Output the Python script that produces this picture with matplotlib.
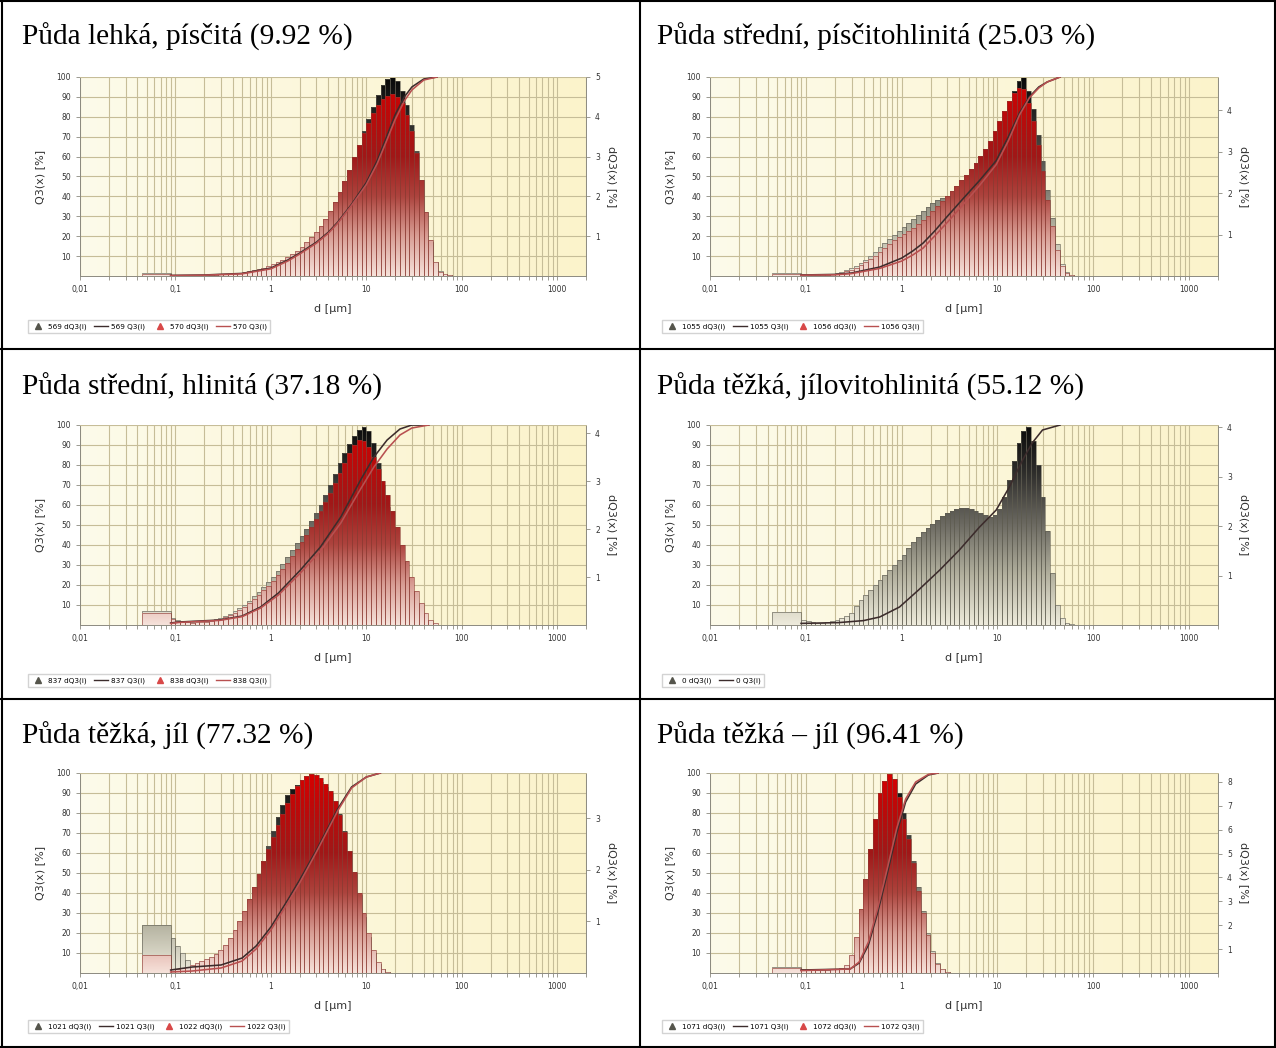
import numpy as np
import matplotlib.pyplot as plt
from matplotlib.colors import LinearSegmentedColormap
from matplotlib.lines import Line2D
from matplotlib.patches import Polygon
from matplotlib.ticker import FixedLocator, LogLocator, NullFormatter

W, H = 1276, 1048

titles = [
    'Půda lehká, písčitá (9.92 %)',
    'Půda střední, písčitohlinitá (25.03 %)',
    'Půda střední, hlinitá (37.18 %)',
    'Půda těžká, jílovitohlinitá (55.12 %)',
    'Půda těžká, jíl (77.32 %)',
    'Půda těžká – jíl (96.41 %)',
]

# size classes of the analyser: one coarse class, then 20 classes per decade
coarse_class = [0.0447, 0.0891]
classes_per_decade = 20

# dQ3 class heights read on the left (0-100) grid, lists start at the 0.0891 um class
blk569 = 1.5
h569 = [0.6, 0.4, 0.3, 0.3, 0.3, 0.3, 0.4, 0.5, 0.6, 0.7, 0.9,
        1.0, 1.2, 1.4, 1.7, 2.0, 2.4, 2.8, 3.3, 4.0, 4.8,
        5.8, 6.8, 8.0, 9.4, 11, 12.8, 14.8, 17, 19.5, 22,
        25, 28.5, 32.5, 37, 42, 47.5, 53.5, 60, 66, 73,
        79, 85, 91, 96, 99, 100, 98, 93, 86, 76,
        63, 48, 32, 17, 7, 2.5, 1, 0.3]
blk570 = 1.2
h570 = [0.5, 0.4, 0.3, 0.3, 0.3, 0.3, 0.4, 0.5, 0.6, 0.7, 0.9,
        1.0, 1.2, 1.4, 1.7, 2.0, 2.4, 2.8, 3.3, 4.0, 4.8,
        5.8, 6.8, 8.0, 9.4, 11, 12.8, 14.8, 17, 19.5, 22,
        25, 28.5, 32.5, 37, 42, 47.5, 53.5, 60, 66, 72,
        77, 82, 86, 89, 90.5, 91.5, 90, 87, 81, 73,
        62, 48, 32, 18, 7, 2, 0.8, 0.3]

blk1055 = 1.5
h1055 = [0.8, 0.5, 0.4, 0.4, 0.5, 0.7, 1.0, 1.5, 2.2, 3.0, 4.0,
         5.2, 6.6, 8.2, 10, 12, 14.5, 16.5, 18.5, 20.5, 22.5,
         24.5, 26.5, 28.5, 30.5, 32.5, 34.5, 36.5, 38, 39, 40,
         40.5, 40.5, 41, 42, 44, 47, 51, 56, 61, 67,
         73, 80, 87, 93, 98, 100, 93, 84, 71, 58,
         43, 29, 16, 6, 2, 0.7, 0.2]
blk1056 = 1.2
h1056 = [0.6, 0.4, 0.3, 0.3, 0.4, 0.5, 0.8, 1.2, 1.7, 2.4, 3.2,
         4.2, 5.4, 6.8, 8.4, 10, 12, 14, 16, 18, 19.5,
         21, 22.5, 24, 26, 28, 30, 32.5, 35, 37.5, 40,
         42.5, 45, 48, 51, 54, 57, 60.5, 64, 68, 73,
         78, 83, 88, 92, 94.5, 94, 87, 78, 66, 53,
         38, 25, 13, 5, 1.5, 0.5, 0.2]

blk837 = 7
h837 = [3.5, 2.5, 1.8, 1.4, 1.3, 1.4, 1.6, 1.8, 2.2, 2.8, 3.5,
        4.4, 5.5, 6.8, 8.4, 10.2, 12.2, 14.3, 16.5, 19, 21.5,
        24, 27, 30.5, 34, 37.5, 41, 44.5, 48, 52, 56,
        60, 65, 70, 75.5, 81, 86, 90.5, 94.5, 97.5, 99,
        97, 91, 81, 70, 59, 48, 37, 25, 15, 7,
        2.5, 0.8, 0.2]
blk838 = 6
h838 = [3.0, 2.2, 1.6, 1.3, 1.2, 1.3, 1.5, 1.7, 2.0, 2.5, 3.1,
        3.9, 4.9, 6.1, 7.5, 9.1, 11, 13, 15, 17.3, 19.6,
        22, 24.8, 27.8, 31, 34.3, 37.8, 41.3, 45, 49, 53,
        57, 61.5, 66, 71, 76, 81, 86, 90, 92.5, 92,
        89, 84, 78, 72, 65, 57, 49, 40, 32, 24,
        17, 11, 6, 2.5, 0.8, 0.2]

blk0 = 6.5
h0 = [2.5, 1.8, 1.3, 1.0, 1.0, 1.3, 1.8, 2.5, 3.3, 4.5, 6.0,
      9.5, 12.5, 15, 17.5, 20, 22.5, 25, 27.5, 30, 32.5,
      35, 38.5, 41.5, 44, 46.5, 48.5, 50.5, 52.5, 54.5, 56,
      57, 58, 58.5, 58.5, 58, 57, 56, 55, 54, 55,
      58, 64, 72.5, 82, 91, 97, 99, 92, 80, 64,
      47, 26, 10, 3.5, 1.2, 0.4]

blk1021 = 24
h1021 = [17.5, 13.5, 10, 6.5, 3.5, 2.2, 1.8, 1.8, 2.0, 2.6, 4.0,
         6, 10, 15, 21, 27.5, 34.5, 41.5, 48.5, 56, 63.5,
         71, 78, 84, 89, 92, 94, 95.5, 97, 97.5, 97,
         95.5, 93, 90, 86, 79.5, 71, 61, 50, 39, 28,
         18, 10, 4.5, 1.8, 0.6]
blk1022 = 9
h1022 = [2, 2, 2.5, 3, 4, 5, 6, 7, 8, 9.5, 11.5,
         14, 17.5, 21.5, 26, 31, 37, 43, 49.5, 56, 62,
         68, 74, 79.5, 85, 89.5, 93.5, 96.5, 98.5, 99.5, 99,
         97.5, 94.5, 91, 86, 79, 70.5, 61, 50.5, 40, 30,
         20, 11.5, 5.5, 2, 0.7]

blk1071 = 3
h1071 = [2, 1.8, 1.5, 1.5, 1.5, 1.6, 1.8, 2.0, 2.5, 4, 8,
         16, 30, 45, 61, 76, 88, 95, 98, 97, 90,
         80, 69, 56, 43, 31, 20, 11, 5, 2, 0.7]
blk1072 = 2.5
h1072 = [2, 1.8, 1.5, 1.5, 1.5, 1.6, 1.8, 2.0, 2.5, 4, 9,
         18, 32, 47, 62, 77, 90, 96, 99.5, 97, 88,
         77, 67, 55, 41, 30, 19, 10, 4.5, 1.8, 0.6]

# Q3 cumulative curves: sizes [um] and values [%]
d_q1 = [0.0891, 0.2, 0.5, 1, 1.5, 2, 3, 4, 5, 7, 10, 13, 16, 20, 25, 30, 40, 55]
q569 = [0.3, 0.5, 1.3, 4, 8, 11.5, 17, 22, 27, 36, 47, 58, 69, 81, 90, 95, 99, 100]
q570 = [0.2, 0.4, 1.1, 3.6, 7.5, 11, 16.5, 21.5, 26.5, 35.5, 46, 56.5, 67, 78.5, 88, 93.5, 98.5, 100]

d_q2 = [0.0891, 0.2, 0.3, 0.59, 1, 1.3, 1.67, 2.2, 3, 4.4, 6.5, 9.7, 13, 17, 21.5, 27, 33, 45]
q1055 = [0.5, 0.8, 1.5, 4.5, 9, 12.5, 16.5, 22.5, 30, 39, 48, 58, 70, 82, 90, 95, 97.5, 100]
q1056 = [0.4, 0.6, 1.2, 3.8, 7.5, 10.5, 14, 20, 27, 36, 45.5, 56, 68, 81, 89.5, 94.5, 97.5, 100]

d_q3 = [0.0891, 0.11, 0.29, 0.5, 0.78, 1.2, 2.04, 3.3, 5.4, 8.7, 12, 16.5, 22.5, 30, 45]
q837 = [1.0, 1.5, 2.5, 4.5, 9, 16, 27.5, 39, 54, 72.5, 84, 92.5, 98, 100, 100]
q838 = [0.8, 1.3, 2.3, 4.2, 8.5, 15, 26, 37, 51, 68, 79, 88, 95, 98.5, 100]

d_q4 = [0.0891, 0.22, 0.4, 0.59, 0.95, 1.5, 2.5, 4, 6.5, 9.7, 13.3, 18.3, 23, 29.5, 45]
q0 = [0.8, 1.2, 2.2, 4, 9, 17.5, 27.5, 37.5, 49, 57.5, 69, 82.5, 91, 97.5, 100]

d_q5 = [0.0891, 0.15, 0.3, 0.5, 0.7, 1, 1.5, 2, 3, 4, 5, 7, 10, 14]
q1021 = [1.5, 3, 4, 7.5, 13.5, 23, 36.5, 46.5, 61.5, 73, 82, 93, 98, 100]
q1022 = [0.5, 1, 2.5, 6, 12, 21.5, 35, 45, 60.5, 72, 81, 92.5, 98, 100]

d_q6 = [0.0891, 0.29, 0.36, 0.45, 0.56, 0.71, 0.89, 1.1, 1.4, 1.9, 2.4]
q1071 = [1.5, 2, 5, 14, 30, 50, 70, 85.5, 94.5, 99, 100]
q1072 = [1.2, 2, 5.5, 15.5, 32, 52.5, 72.5, 87, 95.5, 99.3, 100]

# upper end of the right dQ3 axis for each panel
dq3_max = [5.0, 4.8, 4.17, 4.05, 3.88, 8.37]

panels = [
    [('569', blk569, h569, d_q1, q569), ('570', blk570, h570, d_q1, q570)],
    [('1055', blk1055, h1055, d_q2, q1055), ('1056', blk1056, h1056, d_q2, q1056)],
    [('837', blk837, h837, d_q3, q837), ('838', blk838, h838, d_q3, q838)],
    [('0', blk0, h0, d_q4, q0)],
    [('1021', blk1021, h1021, d_q5, q1021), ('1022', blk1022, h1022, d_q5, q1022)],
    [('1071', blk1071, h1071, d_q6, q1071), ('1072', blk1072, h1072, d_q6, q1072)],
]

# ---- styles -----------------------------------------------------------
cm_bg = LinearSegmentedColormap.from_list('bg', ['#fdfbea', '#fbf3cb'])
cm_dark = LinearSegmentedColormap.from_list(
    'dark', [(0, '#eeebdc'), (0.25, '#b2b09e'), (0.5, '#6c6a62'), (0.75, '#302f2d'), (1, '#080808')])
cm_red = LinearSegmentedColormap.from_list(
    'red', [(0, '#f6e2da'), (0.2, '#d99e95'), (0.4, '#ad443e'), (0.6, '#a01818'),
            (0.85, '#c00808'), (1, '#d80000')])
styles = [
    dict(cmap=cm_dark, edge='#5e5c50', line='#3c2c2c', marker='#55554c'),
    dict(cmap=cm_red, edge='#8c3a32', line='#b85050', marker='#d84848'),
]
grid_col = '#c6bd98'
spine_col = '#8c8a80'
vgrad = np.linspace(0, 1, 256).reshape(-1, 1)
hgrad = np.linspace(0, 1, 256).reshape(1, -1)

col_left = [80, 710]
col_right = [586, 1218]
row_top = [77, 425, 773]
row_bot = [276, 625, 973]
title_x = [22, 657]
title_y = [37, 387, 736]
legend_y = [320, 674, 1020]
legend_x = [28, 662]

fig = plt.figure(figsize=(W / 100, H / 100), dpi=100)
fig.patch.set_facecolor('white')

for k, series in enumerate(panels):
    r, c = divmod(k, 2)
    l, rr, t, b = col_left[c], col_right[c], row_top[r], row_bot[r]
    ax = fig.add_axes([l / W, 1 - b / H, (rr - l) / W, (b - t) / H])
    ax.set_xscale('log')
    ax.set_xlim(0.01, 2000)
    ax.set_ylim(0, 100)
    ax.set_autoscale_on(False)

    ax.imshow(hgrad, cmap=cm_bg, extent=[0, 1, 0, 1], transform=ax.transAxes,
              aspect='auto', zorder=0.1)
    ax.set_axisbelow(True)
    ax.grid(which='both', axis='x', color=grid_col, lw=0.8)
    ax.grid(which='major', axis='y', color=grid_col, lw=0.8)

    handles, labels = [], []
    curves = []
    for s, (name, blk, h, dq, q) in enumerate(series):
        st = styles[s]
        h = np.asarray(h, float)
        edges = coarse_class[1] * 10 ** (np.arange(len(h) + 1) / classes_per_decade)
        lefts = np.concatenate([[coarse_class[0]], edges[:-1]])
        rights = np.concatenate([[coarse_class[1]], edges[1:]])
        heights = np.concatenate([[blk], h])
        verts = [(lefts[0], 0)]
        for x0, x1, v in zip(lefts, rights, heights):
            verts += [(x0, v), (x1, v)]
        verts.append((rights[-1], 0))
        poly = Polygon(verts, closed=True, transform=ax.transData,
                       facecolor='none', edgecolor='none')
        ax.add_patch(poly)
        im = ax.imshow(vgrad, cmap=st['cmap'], extent=[0, 1, 0, 1],
                       transform=ax.transAxes, aspect='auto', origin='lower',
                       zorder=2 + s * 0.2)
        im.set_clip_path(poly)
        ax.bar(lefts, heights, width=rights - lefts, align='edge', fill=False,
               edgecolor=st['edge'], linewidth=0.5, alpha=0.85, zorder=2.1 + s * 0.2)
        curves.append((dq, q, st['line']))
        handles += [Line2D([], [], marker='^', ls='none', color=st['marker'], markersize=4.5),
                    Line2D([], [], color=st['line'], lw=1)]
        labels += [f'{name} dQ3(i)', f'{name} Q3(i)']
    for x, q, col in curves:
        ax.plot(x, q, color=col, lw=1.15, zorder=3)

    ax.xaxis.set_major_locator(FixedLocator([0.01, 0.1, 1, 10, 100, 1000]))
    ax.set_xticklabels(['0,01', '0,1', '1', '10', '100', '1000'])
    ax.xaxis.set_minor_locator(LogLocator(subs=range(2, 10)))
    ax.xaxis.set_minor_formatter(NullFormatter())
    ax.set_yticks(range(10, 101, 10))
    ax.tick_params(which='both', labelsize=5.5, labelcolor='#333333', color=spine_col,
                   length=3, width=0.6)
    ax.set_xlabel('d [µm]', fontsize=8, color='#333333', labelpad=7)
    ax.set_ylabel('Q3(x) [%]', fontsize=8, color='#333333', labelpad=8)
    for sp in ax.spines.values():
        sp.set_color(spine_col)
        sp.set_linewidth(0.7)
    ax.spines['top'].set_color(grid_col)

    ax2 = ax.twinx()
    ax2.set_ylim(0, dq3_max[k])
    ax2.set_yticks(range(1, int(dq3_max[k]) + 1))
    ax2.tick_params(labelsize=5.5, labelcolor='#333333', color=spine_col, length=3, width=0.6)
    ax2.set_ylabel('dQ3(x) [%]', fontsize=8, color='#333333', rotation=270, labelpad=12)
    for sp in ax2.spines.values():
        sp.set_visible(False)

    fig.legend(handles, labels, loc='upper left',
               bbox_to_anchor=(legend_x[c] / W, 1 - legend_y[r] / H),
               ncol=len(handles), fontsize=5.2, frameon=True, fancybox=False,
               edgecolor='#c8c8c8', handlelength=1.9, handletextpad=0.4,
               columnspacing=1.1, borderpad=0.45, borderaxespad=0)

    fig.text(title_x[c] / W, 1 - title_y[r] / H, titles[k], fontsize=21.2,
             family='Liberation Serif', va='center', ha='left')

# table grid
for x in [2, 640, 1275]:
    fig.add_artist(Line2D([x / W, x / W], [0, 1], transform=fig.transFigure,
                          color='black', lw=1.5))
for y in [1, 349, 699, 1047]:
    fig.add_artist(Line2D([0, 1], [1 - y / H, 1 - y / H], transform=fig.transFigure,
                          color='black', lw=1.5))

fig.savefig('out.png', dpi=100)
